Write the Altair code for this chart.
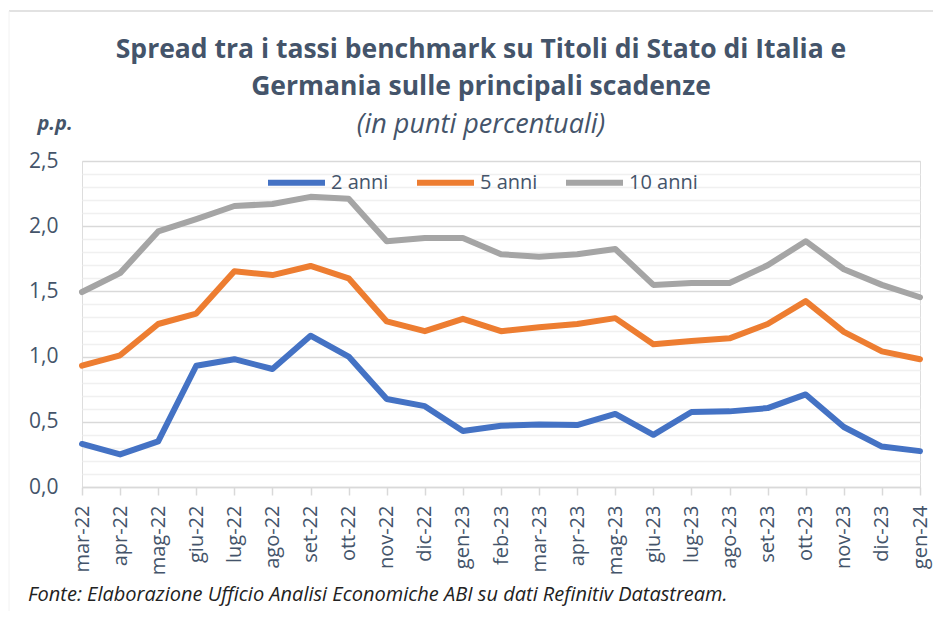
import altair as alt
import pandas as pd

months = ["mar-22", "apr-22", "mag-22", "giu-22", "lug-22", "ago-22", "set-22", "ott-22",
          "nov-22", "dic-22", "gen-23", "feb-23", "mar-23", "apr-23", "mag-23", "giu-23",
          "lug-23", "ago-23", "set-23", "ott-23", "nov-23", "dic-23", "gen-24"]
anni2 = [0.33, 0.25, 0.35, 0.93, 0.98, 0.905, 1.16, 1.00, 0.675, 0.62, 0.43, 0.47,
         0.48, 0.475, 0.56, 0.40, 0.575, 0.58, 0.605, 0.71, 0.46, 0.31, 0.275]
anni5 = [0.93, 1.01, 1.25, 1.33, 1.655, 1.625, 1.695, 1.60, 1.27, 1.195, 1.29, 1.195,
         1.225, 1.25, 1.295, 1.095, 1.12, 1.14, 1.25, 1.425, 1.19, 1.04, 0.98]
anni10 = [1.495, 1.64, 1.96, 2.055, 2.155, 2.17, 2.225, 2.21, 1.885, 1.91, 1.91, 1.785,
          1.765, 1.785, 1.825, 1.55, 1.565, 1.565, 1.70, 1.885, 1.67, 1.55, 1.455]
series = ["2 anni", "5 anni", "10 anni"]
colors = ["#4472c4", "#ed7d31", "#a5a5a5"]
grid_values = [0.0, 0.1, 0.2, 0.3, 0.4, 0.5, 0.6, 0.7, 0.8, 0.9, 1.0, 1.1, 1.2, 1.3,
               1.4, 1.5, 1.6, 1.7, 1.8, 1.9, 2.0, 2.1, 2.2, 2.3, 2.4, 2.5]

rows = []
for name, vals in zip(series, [anni2, anni5, anni10]):
    for m, v in zip(months, vals):
        rows.append({"mese": m, "serie": name, "valore": v})
df = pd.DataFrame(rows)

FONT = "Open Sans"
TXT = "#44546a"

x_enc = alt.X("mese:N", sort=months,
              scale=alt.Scale(type="point", padding=0),
              axis=alt.Axis(title=None, labelAngle=-90, labelAlign="right", labelBaseline="middle",
                            labelFontSize=20, labelColor=TXT, labelFont=FONT, labelPadding=10,
                            tickSize=8, tickColor="#d9d9d9", tickWidth=1.5,
                            domainColor="#d9d9d9", domainWidth=1.5, grid=False))
y_enc = alt.Y("valore:Q",
              scale=alt.Scale(domain=[0, 2.5], nice=False, zero=True),
              axis=alt.Axis(title=None, values=grid_values, domain=False, ticks=False,
                            labelExpr="abs(datum.value*2 - round(datum.value*2)) < 0.001 ? replace(format(datum.value, '.1f'), '.', ',') : ''",
                            labelFontSize=21, labelColor=TXT, labelFont=FONT, labelPadding=24,
                            gridColor=alt.condition("abs(datum.value*2 - round(datum.value*2)) < 0.001",
                                                    alt.value("#d9d9d9"), alt.value("#f0f0f0")),
                            gridWidth=1.5))

lines = alt.Chart(df).mark_line(strokeWidth=6, strokeCap="round", strokeJoin="round").encode(
    x=x_enc, y=y_enc,
    color=alt.Color("serie:N", sort=series,
                    scale=alt.Scale(domain=series, range=colors),
                    legend=alt.Legend(title=None, orient="none", legendX=183, legendY=-10,
                                      direction="horizontal", symbolType="stroke",
                                      symbolSize=3249, symbolStrokeWidth=6,
                                      labelFontSize=20, labelFont=FONT, labelColor=TXT,
                                      labelOffset=3, columnPadding=16))
)

pp = alt.Chart(pd.DataFrame({"t": ["p.p."]})).mark_text(
    font=FONT, fontSize=20, fontWeight="bold", fontStyle="italic", color=TXT, align="center", baseline="middle"
).encode(text="t:N", x=alt.value(-27), y=alt.value(-37))

source = alt.Chart(pd.DataFrame({"t": ["Fonte: Elaborazione Ufficio Analisi Economiche ABI su dati Refinitiv Datastream."]})).mark_text(
    font=FONT, fontSize=20, fontStyle="italic", color="#222222", align="left", baseline="middle"
).encode(text="t:N", x=alt.value(-54), y=alt.value(434))

frame_top = alt.Chart(pd.DataFrame({"k": [0]})).mark_rule(color="#d9d9d9", strokeWidth=1.5).encode(
    x=alt.value(-73), x2=alt.value(851), y=alt.value(-150))
frame_left = alt.Chart(pd.DataFrame({"k": [0]})).mark_rule(color="#f2f2f2", strokeWidth=1).encode(
    x=alt.value(-73), y=alt.value(-150), y2=alt.value(450))

chart = alt.layer(frame_top, frame_left, lines, pp, source).properties(
    width=838, height=326,
    autosize=alt.AutoSizeParams(type="none"),
    padding={"left": 74, "top": 153, "right": 13, "bottom": 124},
    title=alt.TitleParams(
        text=["Spread tra i tassi benchmark su Titoli di Stato di Italia e",
              "Germania sulle principali scadenze"],
        subtitle="(in punti percentuali)",
        anchor="middle", dx=-20, offset=-128,
        font=FONT, fontSize=26.5, fontWeight="bold", color=TXT, lineHeight=37,
        subtitleFont=FONT, subtitleFontSize=27, subtitleFontStyle="italic",
        subtitleColor=TXT, subtitlePadding=12,
    ),
).configure_view(stroke=None).configure(background="white")

chart.save("out.html", embed_options={"renderer": "svg", "actions": False})
